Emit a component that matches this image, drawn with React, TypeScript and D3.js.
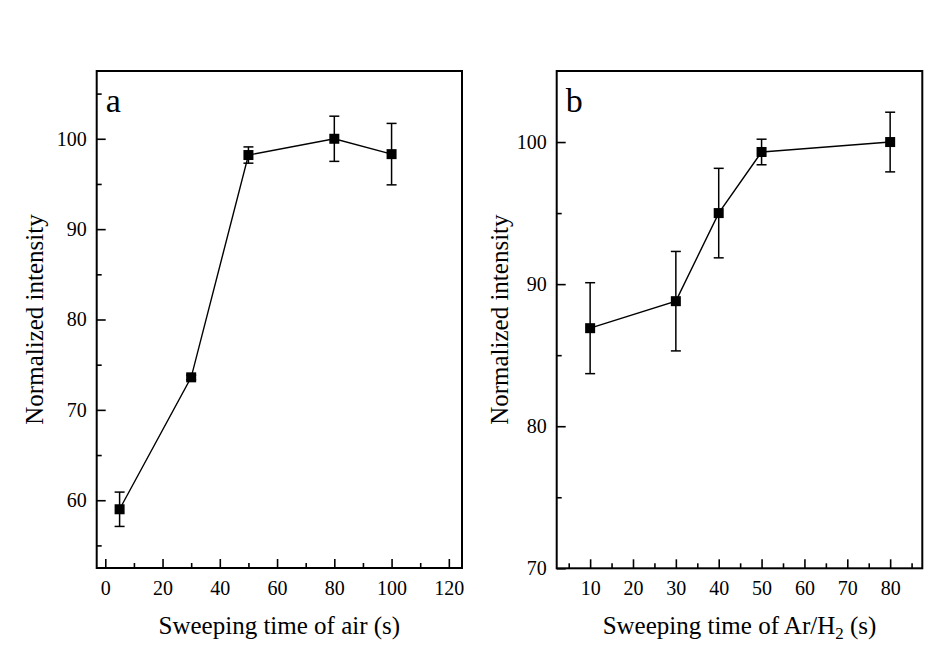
import React, { useEffect, useRef } from "react";
import * as d3 from "d3";

// panel a: sweeping time of air
const airTime = [5, 30, 50, 80, 100];
const airIntensity = [59.0, 73.6, 98.2, 100, 98.3];
const airError = [1.9, 0.25, 0.9, 2.5, 3.4];

// panel b: sweeping time of Ar/H2
const arTime = [10, 30, 40, 50, 80];
const arIntensity = [86.9, 88.8, 95.0, 99.3, 100];
const arError = [3.2, 3.5, 3.15, 0.9, 2.1];

const airXTicks = [0, 20, 40, 60, 80, 100, 120];
const airXMinor = [10, 30, 50, 70, 90, 110];
const airYTicks = [60, 70, 80, 90, 100];
const airYMinor = [55, 65, 75, 85, 95, 105];

const arXTicks = [10, 20, 30, 40, 50, 60, 70, 80];
const arXMinor = [5, 15, 25, 35, 45, 55, 65, 75, 85];
const arYTicks = [70, 80, 90, 100];
const arYMinor = [75, 85, 95];

const FONT = "'Liberation Serif', 'Times New Roman', serif";

const App = () => {
  const ref = useRef<SVGSVGElement>(null);

  useEffect(() => {
    const svg = d3.select(ref.current);
    svg.selectAll("*").remove();

    const drawPanel = (opts) => {
      const { left, right, top, bottom, xDomain, yDomain, xs, ys, errs,
        xTicks, xMinor, yTicks, yMinor, label, xTitle, yTitleX } = opts;
      const x = d3.scaleLinear().domain(xDomain).range([left, right]);
      const y = d3.scaleLinear().domain(yDomain).range([bottom, top]);
      const g = svg.append("g");

      const styleAxis = (sel) => {
        sel.select(".domain").remove();
        sel.selectAll("line").attr("stroke", "#000").attr("stroke-width", 1.6);
        sel.selectAll("text")
          .attr("font-family", FONT)
          .attr("font-size", 20)
          .attr("fill", "#000");
      };

      g.append("g")
        .attr("transform", `translate(0,${bottom})`)
        .call(d3.axisBottom(x).tickValues(xTicks).tickSize(-9).tickPadding(13).tickFormat(d3.format("d")))
        .call(styleAxis);
      g.append("g")
        .attr("transform", `translate(0,${bottom})`)
        .call(d3.axisBottom(x).tickValues(xMinor).tickSize(-5).tickFormat(() => ""))
        .call(styleAxis);
      g.append("g")
        .attr("transform", `translate(${left},0)`)
        .call(d3.axisLeft(y).tickValues(yTicks).tickSize(-9).tickPadding(10).tickFormat(d3.format("d")))
        .call(styleAxis);
      g.append("g")
        .attr("transform", `translate(${left},0)`)
        .call(d3.axisLeft(y).tickValues(yMinor).tickSize(-5).tickFormat(() => ""))
        .call(styleAxis);

      g.append("rect")
        .attr("x", left)
        .attr("y", top)
        .attr("width", right - left)
        .attr("height", bottom - top)
        .attr("fill", "none")
        .attr("stroke", "#000")
        .attr("stroke-width", 2);

      const pts = xs.map((d, i) => ({ x: d, y: ys[i], e: errs[i] }));

      g.append("path")
        .datum(pts)
        .attr("fill", "none")
        .attr("stroke", "#000")
        .attr("stroke-width", 1.4)
        .attr("d", d3.line<any>().x((d) => x(d.x)).y((d) => y(d.y)));

      const eb = g.selectAll(".err").data(pts).enter().append("g").attr("class", "err");
      eb.append("line")
        .attr("x1", (d) => x(d.x)).attr("x2", (d) => x(d.x))
        .attr("y1", (d) => y(d.y + d.e)).attr("y2", (d) => y(d.y - d.e))
        .attr("stroke", "#000").attr("stroke-width", 1.5);
      [1, -1].forEach((s) => {
        eb.append("line")
          .attr("x1", (d) => x(d.x) - 5).attr("x2", (d) => x(d.x) + 5)
          .attr("y1", (d) => y(d.y + s * d.e)).attr("y2", (d) => y(d.y + s * d.e))
          .attr("stroke", "#000").attr("stroke-width", 1.5);
      });

      g.selectAll(".pt").data(pts).enter().append("rect")
        .attr("x", (d) => x(d.x) - 5)
        .attr("y", (d) => y(d.y) - 5)
        .attr("width", 10)
        .attr("height", 10)
        .attr("fill", "#000");

      g.append("text")
        .attr("x", left + 9)
        .attr("y", 111.5)
        .attr("font-family", FONT)
        .attr("font-size", 34)
        .text(label);

      const xt = g.append("text")
        .attr("x", (left + right) / 2)
        .attr("y", 634)
        .attr("text-anchor", "middle")
        .attr("font-family", FONT)
        .attr("font-size", 25);
      xTitle(xt);

      g.append("text")
        .attr("transform", `translate(${yTitleX},${(top + bottom) / 2}) rotate(-90)`)
        .attr("text-anchor", "middle")
        .attr("font-family", FONT)
        .attr("font-size", 25)
        .text("Normalized intensity");
    };

    drawPanel({
      left: 96.7, right: 462, top: 71, bottom: 568,
      xDomain: [-3, 124.6], yDomain: [52.5, 107.5],
      xs: airTime, ys: airIntensity, errs: airError,
      xTicks: airXTicks, xMinor: airXMinor, yTicks: airYTicks, yMinor: airYMinor,
      label: "a",
      xTitle: (t) => t.text("Sweeping time of air (s)"),
      yTitleX: 43,
    });

    drawPanel({
      left: 556.7, right: 922.3, top: 71, bottom: 568.3,
      xDomain: [2.2, 87.5], yDomain: [70, 105],
      xs: arTime, ys: arIntensity, errs: arError,
      xTicks: arXTicks, xMinor: arXMinor, yTicks: arYTicks, yMinor: arYMinor,
      label: "b",
      xTitle: (t) => {
        t.append("tspan").text("Sweeping time of Ar/H");
        t.append("tspan").attr("font-size", 17).attr("dy", 5).text("2");
        t.append("tspan").attr("dy", -5).text(" (s)");
      },
      yTitleX: 508,
    });
  }, []);

  return (
    <div style={{ position: "absolute", left: 0, top: 0 }}>
      <svg ref={ref} width={937} height={660} style={{ display: "block", background: "#fff" }} />
    </div>
  );
};

export default App;
